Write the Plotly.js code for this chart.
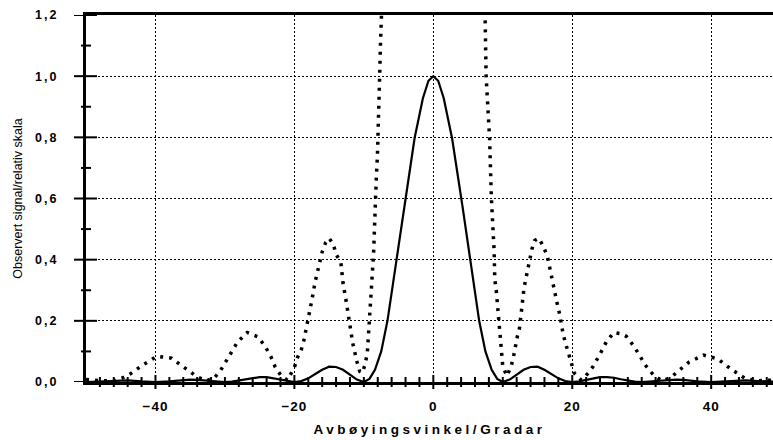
<!DOCTYPE html>
<html>
<head>
<meta charset="utf-8">
<script src="https://cdn.plot.ly/plotly-3.0.1.min.js"></script>
<style>
html,body{margin:0;padding:0;background:#fff;}
#chart{width:773px;height:440px;}
.xtitle{letter-spacing:3.5px;font-weight:bold !important;}
.xtick text{letter-spacing:1px;font-weight:bold !important;}
.ytick text{letter-spacing:2px;font-weight:bold !important;}
</style>
</head>
<body>
<div id="chart"></div>
<script>
const solidX = [-50,-48,-46,-45,-44,-42,-40,-38,-36,-35,-34,-32,-30,-29,-28,-27,-26,-25,-24,-23,-22,-21,-20,-19,-18,-17,-16,-15,-14,-13,-12,-11,-10,-9.2,-8.4,-7.5,-6.6,-5.3,-4.2,-2.7,-1.5,-0.7,0,0.7,1.5,2.7,4.2,5.3,6.6,7.5,8.4,9.2,10,11,12,13,14,15,16,17,18,19,20,21,22,23,24,25,26,27,28,29,30,32,34,35,36,38,40,42,44,45,46,48,50];
const solidY = [0,0.0015,0.004,0.005,0.005,0.002,0,0.002,0.007,0.008,0.007,0.003,0,0.001,0.005,0.009,0.014,0.016,0.016,0.012,0.007,0.002,0,0.003,0.012,0.026,0.04,0.05,0.049,0.04,0.024,0.008,0,0.01,0.04,0.1,0.2,0.4,0.574,0.797,0.928,0.985,1.0,0.985,0.928,0.797,0.574,0.4,0.2,0.1,0.04,0.01,0,0.008,0.024,0.04,0.049,0.05,0.04,0.026,0.012,0.003,0,0.002,0.007,0.012,0.016,0.016,0.014,0.009,0.005,0.001,0,0.003,0.007,0.008,0.007,0.002,0,0.002,0.005,0.005,0.004,0.0015,0];

// Dotted curve: magnified signal (off-scale centre left out)
const dotX = [-50,-48,-46,-44.8,-43.6,-41.8,-39.8,-37.7,-35.9,-34.2,-32.8,-31.6,-30.7,-29.9,-29.1,-28.2,-26.8,-25.2,-24.2,-23.4,-22.8,-21.9,-21.0,-20.0,-19.6,-19.0,-18.6,-18.3,-18.0,-17.5,-17.0,-16.4,-16.0,-15.5,-15.0,-14.4,-14.0,-13.3,-13.0,-12.5,-12.0,-11.6,-11.0,-10.6,-10.2,-9.8,-9.5,-9.3,-9.0,-8.8,-8.6,-8.45,-8.35,-8.2,-8.05,-7.95,-7.8,-7.7,-7.6,-7.45,-7.3,
  null,
  7.3,7.45,7.6,7.85,8.1,8.35,8.6,8.75,8.85,9.06,9.3,9.55,9.7,9.8,10.0,10.6,11.2,11.55,11.8,12.1,12.4,12.7,12.9,13.05,13.3,13.5,13.9,14.2,14.6,15.2,15.8,16.4,16.7,17.0,17.2,17.6,17.9,18.2,18.4,18.7,19.1,19.5,19.9,20.3,21.3,22.3,23.0,23.6,24.2,24.9,26.0,27.0,27.8,28.9,29.8,30.6,31.8,33.0,34.2,35.3,36.8,38.9,41.0,42.8,44.8,46.5,48.5,50];
const dotY = [0.008,0.004,0.004,0.013,0.027,0.056,0.084,0.078,0.048,0.02,0.004,0.012,0.035,0.067,0.098,0.13,0.162,0.147,0.116,0.084,0.051,0.02,0.006,0.048,0.078,0.106,0.14,0.171,0.204,0.266,0.329,0.394,0.425,0.456,0.47,0.451,0.418,0.389,0.324,0.258,0.193,0.127,0.067,0.035,0.03,0.06,0.095,0.16,0.25,0.324,0.42,0.514,0.607,0.672,0.737,0.8,0.928,1.02,1.113,1.2,1.3,
  null,
  1.3,1.2,1.0,0.9,0.797,0.607,0.5,0.43,0.335,0.3,0.236,0.171,0.116,0.084,0.051,0.02,0.051,0.084,0.116,0.149,0.176,0.225,0.275,0.307,0.337,0.369,0.402,0.435,0.463,0.47,0.445,0.413,0.38,0.347,0.315,0.282,0.249,0.22,0.187,0.155,0.122,0.089,0.062,0.029,0.006,0.029,0.051,0.073,0.1,0.131,0.162,0.158,0.149,0.116,0.084,0.053,0.02,0.004,0.015,0.035,0.065,0.088,0.075,0.043,0.013,0.004,0.006,0.004];

const xTickVals = [-40,-20,0,20,40];
const xMinorTicks = [-48,-46,-44,-42,-38,-36,-34,-32,-30,-28,-26,-24,-22,-18,-16,-14,-12,-10,-8,-6,-4,-2,2,4,6,8,10,12,14,16,18,22,24,26,28,30,32,34,36,38,42,44,46,48];
const yTickVals = [0,0.2,0.4,0.6,0.8,1.0,1.2];
const yMinorTicks = [0.1,0.3,0.5,0.7,0.9,1.1];
const xRange = [-50,48.9];
const yRange = [0,1.2];
const xTitle = 'Avbøyingsvinkel/Gradar';
const yTitle = 'Observert signal/relativ skala';

const FAM = 'Liberation Sans, Arial, sans-serif';
const xTickFont = {family:FAM, size:13.5, color:'#000', weight:700};
const yTickFont = {family:FAM, size:12.5, color:'#000', weight:700};

const traces = [
  {x: dotX, y: dotY, type:'scatter', mode:'lines', connectgaps:false,
   line:{color:'#000', width:3.5, dash:'3px,6px'}, hoverinfo:'skip'},
  {x: solidX, y: solidY, type:'scatter', mode:'lines',
   line:{color:'#000', width:2.2}, hoverinfo:'skip'}
];

// crossing tick marks, placed on the axes through the axis scales (pixel-sized)
const shapes = [];
function xTick(v, half) {
  shapes.push({type:'line', xref:'x', yref:'paper', ysizemode:'pixel', yanchor:0,
    x0:v, x1:v, y0:-half, y1:half, line:{color:'#000', width:2}, layer:'above'});
}
function yTick(v, left, right) {
  shapes.push({type:'line', xref:'paper', yref:'y', xsizemode:'pixel', xanchor:0,
    x0:-left, x1:right, y0:v, y1:v, line:{color:'#000', width:2}, layer:'above'});
}
xMinorTicks.forEach(v => xTick(v, 5));
xTickVals.forEach(v => xTick(v, 7));
yMinorTicks.forEach(v => yTick(v, 5, 5));
yTickVals.forEach(v => yTick(v, 12, 11));

const layout = {
  width:773, height:440,
  margin:{l:86, r:0, t:15, b:58},
  paper_bgcolor:'#fff', plot_bgcolor:'#fff',
  showlegend:false,
  separators:',.',
  shapes: shapes,
  xaxis:{
    range:xRange, autorange:false,
    tickmode:'array', tickvals:xTickVals,
    ticks:'', ticklabelstandoff:10,
    showgrid:true, gridcolor:'#000', gridwidth:1.3, griddash:'2px,2px',
    showline:true, linecolor:'#000', linewidth:3, mirror:true,
    zeroline:false,
    tickfont:xTickFont,
    title:{text:xTitle, font:{family:FAM, size:13.5, color:'#000', weight:700}, standoff:12}
  },
  yaxis:{
    range:yRange, autorange:false,
    tickmode:'array', tickvals:yTickVals, tickformat:'.1f',
    ticks:'', ticklabelstandoff:22,
    showgrid:true, gridcolor:'#000', gridwidth:1.3, griddash:'2px,2px',
    showline:true, linecolor:'#000', linewidth:3,
    zeroline:false,
    tickfont:yTickFont,
    title:{text:yTitle, font:{family:FAM, size:12.5, color:'#000'}, standoff:10}
  }
};

Plotly.newPlot('chart', traces, layout, {staticPlot:true, displayModeBar:false});
</script>
</body>
</html>
